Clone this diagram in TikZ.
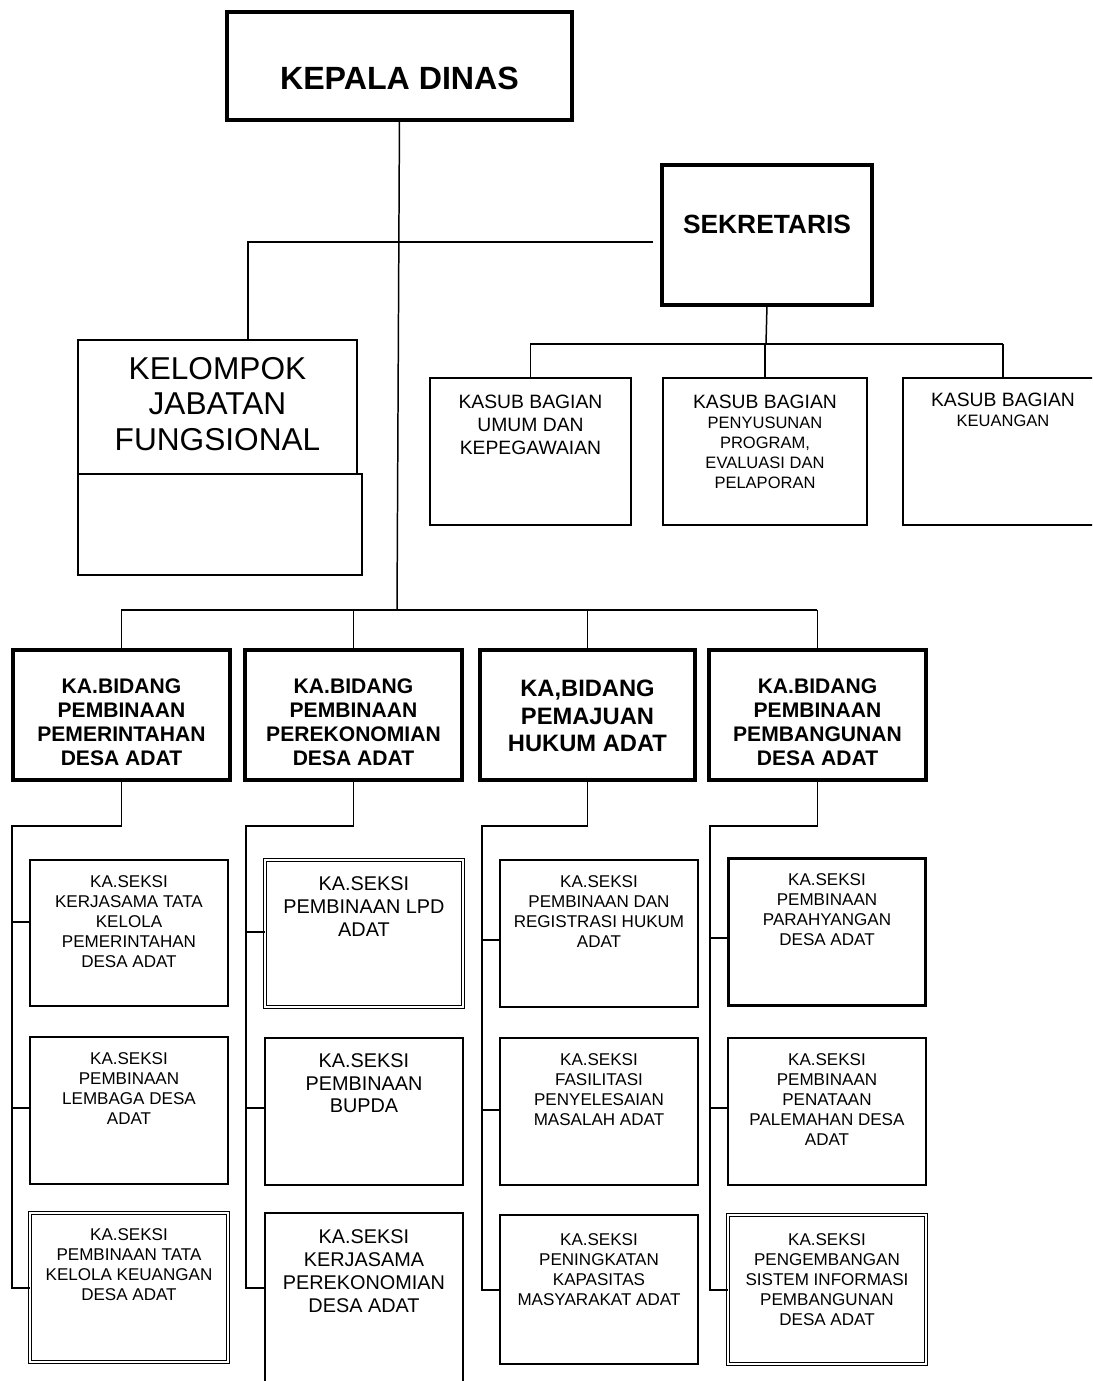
\documentclass[tikz,border=0pt]{standalone}
\usepackage{fontspec}
\setmainfont{Liberation Sans}
\usetikzlibrary{positioning}

\begin{document}
\begin{tikzpicture}[x=0.02cm,y=-0.02cm]
    \tikzset{box/.style = {draw, line width=0.9pt, inner sep=0pt, outer sep=0pt, anchor=north west}}
    \tikzset{headbox/.style = {box, line width=2.7pt}}
    \tikzset{seksibox/.style = {box, line width=1.1pt, minimum width=3.96cm}}
    \tikzset{dblbox/.style = {seksibox, double, double distance=1.1pt, line width=0.6pt}}
    \tikzset{edge/.style = {line width=0.85pt}}
    \tikzset{txt/.style = {align=center, anchor=north, inner sep=0pt}}
    \tikzset{seksitxt/.style = {txt, yshift=-8.5pt, font=\fontsize{9.7}{11.4}\selectfont}}
    \tikzset{bidtxt/.style = {txt, yshift=-16pt, font=\bfseries\fontsize{12}{13.8}\selectfont}}

    \useasboundingbox (0,0) rectangle (1092,1381);
    \clip (0,0) rectangle (1092,1381);

    % top
    \node[headbox, minimum width=6.9cm, minimum height=2.16cm,
      label={[txt, yshift=-31pt, font=\bfseries\fontsize{18.3}{21}\selectfont]north:KEPALA DINAS}]
      (kadis) at (227,12) {};
    \node[headbox, line width=2.3pt, minimum width=4.2cm, minimum height=2.8cm,
      label={[txt, yshift=-28.5pt, font=\bfseries\fontsize{15}{18}\selectfont]north:SEKRETARIS}]
      (sek) at (662,165) {};
    \node[box, minimum width=5.58cm, minimum height=2.68cm,
      label={[txt, yshift=-9.5pt, font=\fontsize{18}{20.4}\selectfont]north:KELOMPOK\\JABATAN\\FUNGSIONAL}]
      (fung) at (78,340) {};
    \node[box, minimum width=5.68cm, minimum height=2.02cm] (fungb) at (78,474) {};

    % kasub bagian
    \node[box, minimum width=4.02cm, minimum height=2.94cm,
      label={[txt, yshift=-9.6pt, font=\fontsize{11}{13}\selectfont]north:KASUB BAGIAN\\UMUM DAN\\KEPEGAWAIAN}]
      (ka1) at (430,378) {};
    \node[box, minimum width=4.08cm, minimum height=2.94cm,
      label={[txt, yshift=-9.6pt, font=\fontsize{9.4}{11.4}\selectfont]north:{\fontsize{11}{13}\selectfont KASUB BAGIAN}\\PENYUSUNAN\\PROGRAM,\\EVALUASI DAN\\PELAPORAN}]
      (ka2) at (663,378) {};
    \node[box, minimum width=4.0cm, minimum height=2.94cm,
      label={[txt, yshift=-8.4pt, font=\fontsize{9.4}{11.6}\selectfont]north:{\fontsize{11}{13}\selectfont KASUB BAGIAN}\\KEUANGAN}]
      (ka3) at (903,378) {};

    % ka. bidang
    \node[headbox, minimum width=4.34cm, minimum height=2.6cm,
      label={[bidtxt]north:KA.BIDANG\\PEMBINAAN\\PEMERINTAHAN\\DESA ADAT}] (bid1) at (13,650) {};
    \node[headbox, minimum width=4.34cm, minimum height=2.6cm,
      label={[bidtxt]north:KA.BIDANG\\PEMBINAAN\\PEREKONOMIAN\\DESA ADAT}] (bid2) at (245,650) {};
    \node[headbox, minimum width=4.3cm, minimum height=2.6cm,
      label={[bidtxt, yshift=-1pt, font=\bfseries\fontsize{13.5}{15.6}\selectfont]north:KA,BIDANG\\PEMAJUAN\\HUKUM ADAT}] (bid3) at (480,650) {};
    \node[headbox, minimum width=4.34cm, minimum height=2.6cm,
      label={[bidtxt]north:KA.BIDANG\\PEMBINAAN\\PEMBANGUNAN\\DESA ADAT}] (bid4) at (709,650) {};

    % ka. seksi
    \node[seksibox, minimum height=2.92cm,
      label={[seksitxt]north:KA.SEKSI\\KERJASAMA TATA\\KELOLA\\PEMERINTAHAN\\DESA ADAT}] (s11) at (30,860) {};
    \node[seksibox, minimum height=2.94cm,
      label={[seksitxt]north:KA.SEKSI\\PEMBINAAN\\LEMBAGA DESA\\ADAT}] (s12) at (30,1037) {};
    \node[dblbox, minimum height=2.98cm,
      label={[seksitxt]north:KA.SEKSI\\PEMBINAAN TATA\\KELOLA KEUANGAN\\DESA ADAT}] (s13) at (30,1213) {};

    \node[dblbox, minimum height=2.94cm,
      label={[seksitxt, yshift=-1pt, font=\fontsize{11.3}{13}\selectfont]north:KA.SEKSI\\PEMBINAAN LPD\\ADAT}] (s21) at (265,860) {};
    \node[seksibox, minimum height=2.94cm,
      label={[seksitxt, font=\fontsize{11.3}{13}\selectfont]north:KA.SEKSI\\PEMBINAAN\\BUPDA}] (s22) at (265,1038) {};
    \node[seksibox, minimum height=4cm,
      label={[seksitxt, yshift=-1pt, font=\fontsize{11.3}{13}\selectfont]north:KA.SEKSI\\KERJASAMA\\PEREKONOMIAN\\DESA ADAT}] (s23) at (265,1213) {};

    \node[seksibox, minimum height=2.94cm,
      label={[seksitxt]north:KA.SEKSI\\PEMBINAAN DAN\\REGISTRASI HUKUM\\ADAT}] (s31) at (500,860) {};
    \node[seksibox, minimum height=2.94cm,
      label={[seksitxt]north:KA.SEKSI\\FASILITASI\\PENYELESAIAN\\MASALAH ADAT}] (s32) at (500,1038) {};
    \node[seksibox, minimum height=2.98cm,
      label={[seksitxt, yshift=-2pt]north:KA.SEKSI\\PENINGKATAN\\KAPASITAS\\MASYARAKAT ADAT}] (s33) at (500,1215) {};

    \node[seksibox, line width=1.7pt, minimum height=2.96cm,
      label={[seksitxt]north:KA.SEKSI\\PEMBINAAN\\PARAHYANGAN\\DESA ADAT}] (s41) at (728,858) {};
    \node[seksibox, minimum height=2.94cm,
      label={[seksitxt]north:KA.SEKSI\\PEMBINAAN\\PENATAAN\\PALEMAHAN DESA\\ADAT}] (s42) at (728,1038) {};
    \node[dblbox, minimum height=2.98cm,
      label={[seksitxt, yshift=-2pt]north:KA.SEKSI\\PENGEMBANGAN\\SISTEM INFORMASI\\PEMBANGUNAN\\DESA ADAT}] (s43) at (728,1215) {};

    % lines
    \coordinate (staf) at (653,242);
    \coordinate (fungtop) at (248,340);
    \coordinate (sekbus) at (766,344);
    \coordinate (bidbus) at (397,610);

    \draw[edge] (kadis.south) -- (bidbus);
    \draw[edge] (staf) -- (staf -| fungtop) -- (fungtop);
    \draw[edge] (sek.south) -- (sekbus);
    \draw[edge] (ka1.north |- sekbus) -- (ka3.north |- sekbus);
    \foreach \k in {ka1,ka2,ka3} {\draw[edge] (\k.north |- sekbus) -- (\k.north);}
    \draw[edge, line width=1.2pt] (bid1.north |- bidbus) -- (bid4.north |- bidbus);
    \foreach \b in {bid1,bid2,bid3,bid4} {\draw[edge] (\b.north |- bidbus) -- (\b.north);}

    \foreach \c/\sx/\ya/\yb/\yc in {1/12/922/1108/1288, 2/246/932/1108/1288, 3/482/940/1110/1290, 4/710/938/1108/1290}
    {
      \draw[edge] (bid\c.south) -- ++(0,46) -| (\sx,\yc) -- (s\c3.west |- 0,\yc);
      \draw[edge] (\sx,\ya) -- (s\c1.west |- 0,\ya);
      \draw[edge] (\sx,\yb) -- (s\c2.west |- 0,\yb);
    }
\end{tikzpicture}
\end{document}
